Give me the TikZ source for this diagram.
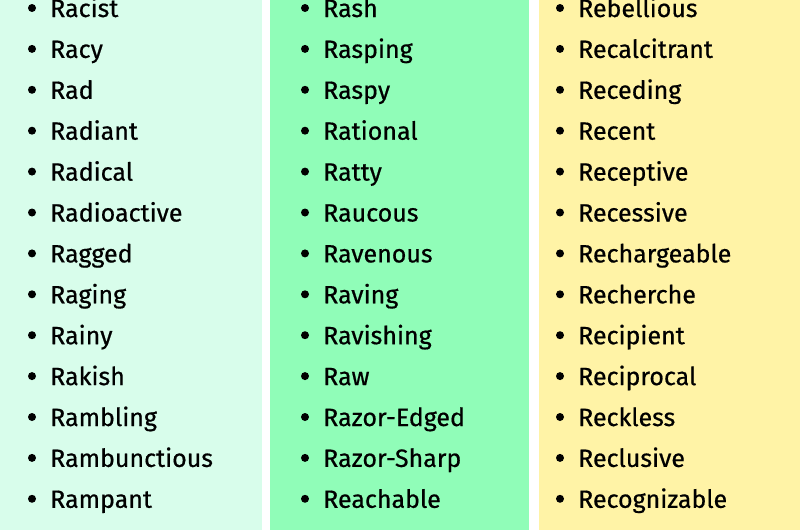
\documentclass[tikz,border=0pt]{standalone}
\usepackage{fontspec}
\setmainfont{Fira Sans}
\usetikzlibrary{positioning}
\definecolor{mintbg}{HTML}{D8FDEB}
\definecolor{greenbg}{HTML}{90FDB8}
\definecolor{yellowbg}{HTML}{FFF3A6}
\tikzset{
  word/.style={anchor=base west, inner sep=0pt, font=\fontsize{25}{25}\selectfont\addfontfeature{FakeBold=0.6}},
  dot/.style={circle, fill=black, inner sep=0pt, minimum size=8pt}
}
\begin{document}
\begin{tikzpicture}[x=1pt, y=-1pt]
  \useasboundingbox (0,0) rectangle (800,530);
  % Column backgrounds
  \fill[mintbg] (0,0) rectangle (262,530);
  \fill[greenbg] (270,0) rectangle (529,530);
  \fill[yellowbg] (539,0) rectangle (800,530);

  % First column
  \foreach \w [count=\i] in {Racist,Racy,Rad,Radiant,Radical,Radioactive,Ragged,Raging,Rainy,Rakish,Rambling,Rambunctious,Rampant} {
    \node[dot] (a\i) at (32, {8+40.9*(\i-1)}) {};
    \node[word] (wa\i) at (50, {17+40.9*(\i-1)}) {\w};
  }
  % Second column
  \foreach \w [count=\i] in {Rash,Rasping,Raspy,Rational,Ratty,Raucous,Ravenous,Raving,Ravishing,Raw,Razor-Edged,Razor-Sharp,Reachable} {
    \node[dot] (b\i) at (305, {8+40.9*(\i-1)}) {};
    \node[word] (wb\i) at (323, {17+40.9*(\i-1)}) {\w};
  }
  % Third column
  \foreach \w [count=\i] in {Rebellious,Recalcitrant,Receding,Recent,Receptive,Recessive,Rechargeable,Recherche,Recipient,Reciprocal,Reckless,Reclusive,Recognizable} {
    \node[dot] (c\i) at (560, {8+40.9*(\i-1)}) {};
    \node[word] (wc\i) at (578, {17+40.9*(\i-1)}) {\w};
  }
\end{tikzpicture}
\end{document}
